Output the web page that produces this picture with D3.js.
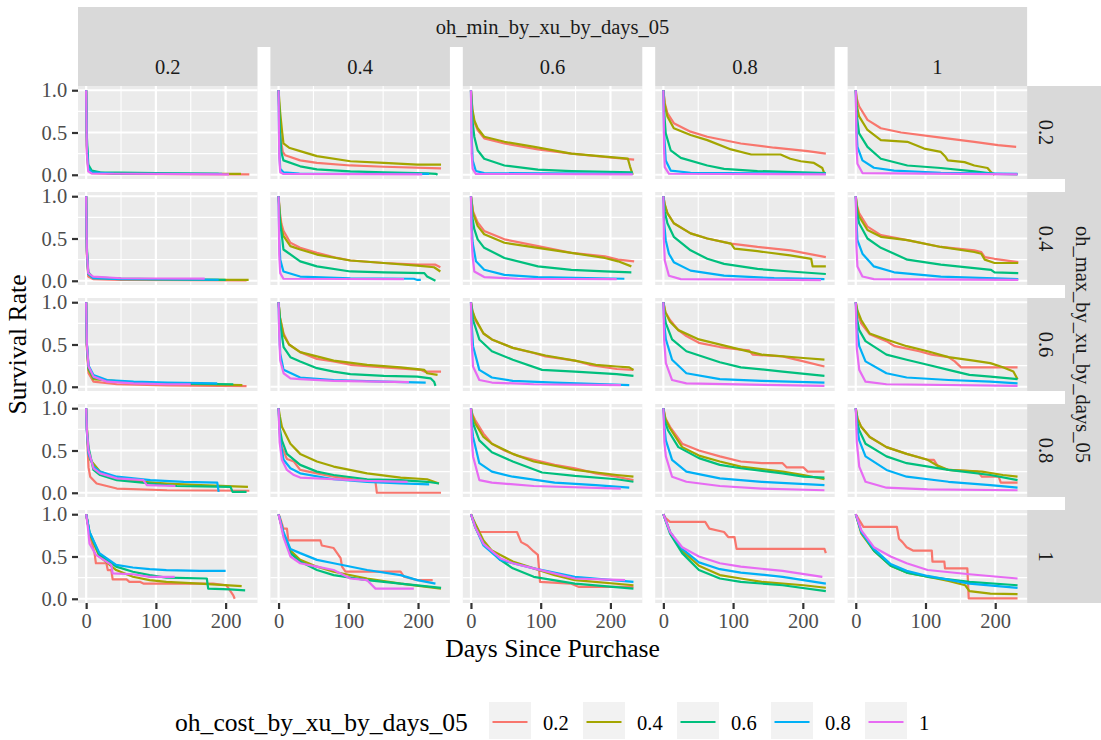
<!DOCTYPE html>
<html>
<head>
<meta charset="utf-8">
<title>Survival by facet</title>
<script src="https://cdn.jsdelivr.net/npm/d3@7"></script>
<style>
  body { margin: 0; background: #fff; }
  text { font-family: "Liberation Serif", "Times New Roman", serif; }
</style>
</head>
<body>
<script>
// facet levels
var minLevels = ["0.2", "0.4", "0.6", "0.8", "1"];   // columns
var maxLevels = ["0.2", "0.4", "0.6", "0.8", "1"];   // rows
var costLevels = ["0.2", "0.4", "0.6", "0.8", "1"];  // colour
var costColors = ["#F8766D", "#A3A500", "#00BF7D", "#00B0F6", "#E76BF3"];
var xTicks = [0, 100, 200];
var xMinor = [50, 150];
var yTicks = [0, 0.5, 1];
var yMinor = [0.25, 0.75];

// one panel = one [day, survival] list per cost level (0.2 .. 1)
// row oh_max = 0.2
var max02_min02 = [
  [[0,1],[1,0.3],[3,0.06],[8,0.02],[40,0.01],[234,0.005]],
  [[0,1],[1,0.35],[3,0.08],[8,0.03],[40,0.015],[222,0.01]],
  [[0,1],[1,0.45],[3,0.12],[8,0.05],[20,0.03],[100,0.02],[190,0.01]],
  [[0,1],[1,0.35],[3,0.08],[8,0.03],[40,0.015],[195,0.01]],
  [[0,1],[1,0.25],[3,0.04],[8,0.015],[205,0.005]]
];
var max02_min04 = [
  [[0,1],[1.5,0.6],[3.4,0.41],[6,0.27],[9.6,0.23],[31,0.17],[55,0.14],[103,0.11],[151,0.095],[233,0.075]],
  [[0,1],[2.4,0.73],[4.8,0.53],[7,0.37],[15,0.32],[31,0.28],[55,0.22],[103,0.16],[151,0.14],[199,0.12],[233,0.12]],
  [[0,1],[2,0.5],[4,0.27],[7,0.17],[31,0.1],[55,0.063],[103,0.04],[151,0.028],[213,0.016],[226,0.01],[228,0]],
  [[0,1],[1,0.3],[2.4,0.07],[7,0.03],[30,0.015],[216,0.01]],
  [[0,1],[1,0.2],[2.4,0.03],[7,0.01],[206,0.005]]
];
var max02_min06 = [
  [[0,1],[2,0.75],[5,0.62],[9.6,0.53],[19,0.43],[48,0.37],[96,0.3],[144,0.25],[192,0.21],[234,0.18]],
  [[0,1],[2,0.78],[5,0.64],[9.6,0.55],[19,0.45],[48,0.39],[91,0.33],[144,0.25],[225,0.19],[228,0.1],[232,0]],
  [[0,1],[2,0.65],[4.8,0.45],[9.6,0.29],[19,0.19],[48,0.11],[96,0.06],[144,0.044],[232,0.03]],
  [[0,1],[1,0.45],[2.4,0.17],[7,0.044],[19,0.02],[232,0.01]],
  [[0,1],[1,0.25],[2.4,0.07],[7,0.01],[232,0.005]]
];
var max02_min08 = [
  [[0,1],[2,0.85],[5.8,0.73],[15,0.61],[39,0.51],[63,0.45],[111,0.37],[159,0.32],[207,0.28],[233,0.25]],
  [[0,1],[2,0.83],[5.8,0.69],[15,0.55],[39,0.47],[63,0.41],[97,0.3],[126,0.24],[168,0.24],[182,0.19],[197,0.16],[216,0.14],[228,0.08],[231,0.01]],
  [[0,1],[1.5,0.7],[3.4,0.49],[10.5,0.29],[25,0.2],[63,0.11],[87,0.07],[135,0.044],[233,0.02]],
  [[0,1],[1,0.5],[3.4,0.17],[10.5,0.05],[39,0.024],[233,0.01]],
  [[0,1],[1,0.3],[2,0.09],[8,0.012],[233,0.005]]
];
var max02_min1 = [
  [[0,1],[1.5,0.9],[4.8,0.81],[16.8,0.65],[36,0.55],[65,0.5],[122,0.44],[170,0.39],[204,0.35],[230,0.33]],
  [[0,1],[1.5,0.82],[4.8,0.69],[16.8,0.53],[36,0.41],[74,0.39],[98,0.31],[122,0.27],[128,0.22],[132,0.17],[156,0.15],[170,0.11],[189,0.08],[194,0.03],[199,0]],
  [[0,1],[1.5,0.7],[4.8,0.49],[16.8,0.33],[36,0.19],[74,0.11],[122,0.08],[170,0.04],[199,0.01],[232,0.005]],
  [[0,1],[1,0.55],[2.4,0.33],[9.6,0.17],[26,0.083],[55,0.05],[122,0.024],[232,0.01]],
  [[0,1],[1,0.35],[2.4,0.13],[9.6,0.02],[232,0.005]]
];
// row oh_max = 0.4
var max04_min02 = [
  [[0,1],[1,0.3],[3,0.05],[10,0.02],[50,0.01],[230,0.005]],
  [[0,1],[1,0.35],[3,0.08],[10,0.035],[50,0.02],[150,0.012],[233,0.01]],
  [[0,1],[1,0.4],[3,0.1],[10,0.04],[50,0.025],[150,0.015],[200,0.01]],
  [[0,1],[1,0.35],[3,0.08],[10,0.03],[50,0.02],[190,0.012]],
  [[0,1],[1,0.35],[3,0.09],[10,0.05],[50,0.03],[170,0.025]]
];
var max04_min04 = [
  [[0,1],[2,0.8],[4,0.68],[7,0.59],[17,0.45],[31,0.39],[55,0.33],[84,0.27],[103,0.24],[151,0.21],[199,0.19],[225,0.19],[232,0.16]],
  [[0,1],[2,0.75],[4,0.62],[7,0.53],[17,0.41],[31,0.37],[55,0.31],[103,0.24],[151,0.21],[199,0.18],[223,0.16],[232,0.11]],
  [[0,1],[2,0.7],[4.8,0.53],[7,0.37],[31,0.23],[55,0.17],[103,0.11],[151,0.1],[209,0.09],[213,0.05],[225,0]],
  [[0,1],[1,0.5],[2.4,0.25],[7,0.11],[31,0.05],[103,0.03],[194,0.024],[199,0.01],[204,0.01]],
  [[0,1],[1,0.3],[2.4,0.09],[7,0.024],[180,0.02]]
];
var max04_min06 = [
  [[0,1],[3,0.82],[9.6,0.69],[19,0.59],[48,0.49],[96,0.41],[144,0.33],[192,0.29],[211,0.25],[234,0.23]],
  [[0,1],[3,0.8],[9.6,0.65],[19,0.55],[48,0.45],[96,0.39],[144,0.33],[192,0.27],[211,0.23],[230,0.17]],
  [[0,1],[2,0.75],[4.8,0.61],[9.6,0.49],[19,0.39],[48,0.27],[96,0.17],[144,0.13],[192,0.11],[230,0.1]],
  [[0,1],[1,0.65],[2.4,0.45],[7.2,0.23],[19,0.13],[48,0.07],[96,0.044],[220,0.024]],
  [[0,1],[1,0.5],[2.4,0.29],[4.8,0.11],[19,0.044],[67,0.024],[209,0.02]]
];
var max04_min08 = [
  [[0,1],[2,0.9],[5.8,0.8],[15,0.68],[39,0.56],[63,0.5],[97,0.44],[135,0.4],[182,0.36],[233,0.28]],
  [[0,1],[2,0.9],[5.8,0.8],[15,0.68],[39,0.56],[63,0.5],[97,0.44],[102,0.38],[135,0.35],[182,0.3],[212,0.26],[214,0.17],[233,0.17]],
  [[0,1],[2,0.82],[5.8,0.68],[15,0.52],[39,0.36],[63,0.26],[87,0.2],[135,0.14],[182,0.11],[233,0.08]],
  [[0,1],[1,0.7],[3.4,0.48],[8,0.32],[15,0.22],[39,0.12],[87,0.06],[159,0.032],[231,0.02]],
  [[0,1],[0.7,0.5],[2,0.24],[8,0.06],[25,0.02],[226,0.008]]
];
var max04_min1 = [
  [[0,1],[1.5,0.9],[4.8,0.8],[16.8,0.64],[36,0.54],[74,0.48],[122,0.4],[170,0.36],[180,0.34],[185,0.28],[199,0.26],[233,0.22]],
  [[0,1],[1.5,0.88],[4.8,0.76],[16.8,0.6],[36,0.52],[74,0.48],[122,0.4],[170,0.34],[180,0.32],[185,0.25],[199,0.21],[233,0.21]],
  [[0,1],[1.5,0.82],[4.8,0.68],[16.8,0.5],[36,0.39],[74,0.25],[122,0.19],[170,0.15],[194,0.13],[199,0.1],[233,0.09]],
  [[0,1],[1,0.7],[2.4,0.48],[9.6,0.32],[26,0.17],[55,0.1],[122,0.05],[233,0.02]],
  [[0,1],[1,0.4],[2.4,0.17],[9.6,0.05],[26,0.02],[233,0.01]]
];
// row oh_max = 0.6
var max06_min02 = [
  [[0,1],[1,0.45],[3.4,0.16],[10.5,0.06],[44,0.03],[116,0.016],[230,0.008]],
  [[0,1],[1,0.5],[3.4,0.2],[10.5,0.09],[68,0.05],[164,0.03],[224,0.02]],
  [[0,1],[1,0.5],[3.4,0.22],[10.5,0.11],[30,0.07],[68,0.05],[116,0.04],[211,0.03]],
  [[0,1],[1,0.52],[3.4,0.25],[10.5,0.14],[30,0.08],[68,0.06],[116,0.05],[188,0.04]],
  [[0,1],[1,0.5],[3.4,0.24],[10.5,0.12],[30,0.06],[68,0.04],[116,0.03],[150,0.03]]
];
var max06_min04 = [
  [[0,1],[2,0.82],[7.2,0.63],[15,0.5],[31,0.41],[55,0.33],[79,0.3],[103,0.26],[151,0.23],[204,0.2],[209,0.18],[233,0.18]],
  [[0,1],[2,0.82],[7.2,0.61],[15,0.5],[31,0.41],[79,0.31],[127,0.26],[175,0.23],[209,0.2],[213,0.16],[228,0.14]],
  [[0,1],[2.4,0.75],[7.2,0.47],[17,0.35],[31,0.3],[55,0.22],[79,0.18],[103,0.15],[151,0.13],[199,0.12],[218,0.1],[223,0.06],[225,0.01]],
  [[0,1],[1,0.65],[2.4,0.39],[7.2,0.2],[31,0.11],[79,0.08],[151,0.06],[211,0.05]],
  [[0,1],[1,0.6],[2.4,0.31],[7.2,0.16],[17,0.1],[31,0.09],[79,0.07],[187,0.055]]
];
var max06_min06 = [
  [[0,1],[2,0.9],[6,0.79],[18,0.63],[30,0.56],[60,0.46],[90,0.4],[107,0.36],[149,0.31],[170,0.26],[209,0.21],[233,0.2]],
  [[0,1],[2,0.9],[6,0.81],[18,0.63],[30,0.56],[60,0.46],[107,0.37],[149,0.31],[179,0.26],[209,0.24],[227,0.23],[233,0.2]],
  [[0,1],[1.5,0.88],[3,0.79],[12,0.56],[30,0.42],[60,0.32],[102,0.2],[149,0.18],[209,0.15],[233,0.13]],
  [[0,1],[1,0.75],[3,0.48],[12,0.2],[30,0.11],[60,0.07],[120,0.05],[227,0.02]],
  [[0,1],[1,0.55],[3,0.24],[12,0.08],[30,0.05],[90,0.03],[215,0.02]]
];
var max06_min08 = [
  [[0,1],[3,0.88],[9.6,0.79],[21.5,0.67],[33,0.6],[51,0.52],[81,0.47],[111,0.44],[123,0.43],[128,0.38],[171,0.36],[201,0.3],[231,0.24]],
  [[0,1],[3,0.88],[9.6,0.77],[21.5,0.67],[51,0.56],[111,0.44],[141,0.38],[201,0.34],[231,0.32]],
  [[0,1],[1.5,0.85],[3.6,0.75],[12.5,0.56],[33,0.42],[81,0.29],[111,0.23],[171,0.18],[231,0.13]],
  [[0,1],[1.2,0.75],[3.6,0.56],[12.5,0.32],[33,0.16],[81,0.09],[141,0.07],[231,0.05]],
  [[0,1],[1.2,0.55],[3.6,0.28],[12.5,0.08],[33,0.04],[231,0.01]]
];
var max06_min1 = [
  [[0,1],[2.5,0.87],[7.8,0.75],[20,0.62],[44,0.54],[56,0.48],[91,0.42],[109,0.38],[133,0.35],[142,0.3],[151,0.23],[193,0.23],[232,0.23]],
  [[0,1],[2.5,0.9],[7.8,0.79],[20,0.63],[44,0.56],[73,0.48],[103,0.42],[133,0.35],[169,0.31],[193,0.28],[211,0.23],[226,0.18],[232,0.09]],
  [[0,1],[2,0.8],[5,0.67],[14,0.54],[44,0.38],[73,0.32],[103,0.26],[133,0.2],[163,0.14],[193,0.12],[232,0.09]],
  [[0,1],[1.5,0.7],[5,0.48],[14,0.3],[44,0.16],[73,0.11],[133,0.08],[193,0.06],[232,0.04]],
  [[0,1],[1.5,0.45],[5,0.2],[14,0.06],[44,0.03],[232,0.01]]
];
// row oh_max = 0.8
var max08_min02 = [
  [[0,1],[2,0.54],[3.4,0.3],[5.8,0.19],[15,0.11],[44,0.05],[116,0.03],[234,0.024]],
  [[0,1],[2,0.6],[5.8,0.39],[20,0.25],[44,0.17],[82,0.13],[116,0.11],[164,0.09],[232,0.07]],
  [[0,1],[1,0.75],[3.4,0.54],[10.5,0.27],[20,0.21],[44,0.15],[92,0.11],[130,0.08],[207,0.07],[210,0.01],[230,0.01]],
  [[0,1],[1,0.72],[3.4,0.46],[10.5,0.31],[20,0.25],[44,0.19],[92,0.15],[140,0.13],[188,0.12],[190,0.01]],
  [[0,1],[1,0.74],[3.4,0.5],[10.5,0.29],[20,0.23],[44,0.17],[82,0.15],[87,0.09],[128,0.08]]
];
var max08_min04 = [
  [[0,1],[2,0.7],[4.8,0.54],[12,0.4],[22,0.37],[31,0.27],[55,0.23],[79,0.19],[115,0.15],[139,0.13],[141,0],[233,0]],
  [[0,1],[2,0.9],[4.8,0.78],[17,0.58],[31,0.46],[55,0.37],[79,0.31],[127,0.23],[175,0.18],[213,0.16],[230,0.11]],
  [[0,1],[2,0.75],[4.8,0.62],[12,0.46],[31,0.33],[55,0.25],[79,0.21],[127,0.16],[175,0.15],[213,0.13],[230,0.11]],
  [[0,1],[1,0.8],[2.4,0.62],[7.2,0.39],[17,0.29],[31,0.23],[79,0.16],[127,0.13],[175,0.11],[216,0.1]],
  [[0,1],[1.5,0.6],[4.8,0.39],[12,0.27],[22,0.21],[31,0.18],[79,0.16],[127,0.14],[185,0.13]]
];
var max08_min06 = [
  [[0,1],[2,0.93],[6,0.86],[18,0.7],[30,0.58],[48,0.5],[66,0.44],[90,0.39],[120,0.33],[149,0.29],[179,0.23],[209,0.19],[233,0.15]],
  [[0,1],[2,0.92],[6,0.82],[18,0.66],[30,0.58],[60,0.46],[90,0.37],[149,0.27],[209,0.21],[233,0.19]],
  [[0,1],[1.2,0.9],[3,0.82],[12,0.62],[30,0.48],[60,0.37],[102,0.24],[149,0.2],[209,0.16],[233,0.13]],
  [[0,1],[1.2,0.8],[3,0.66],[12,0.35],[30,0.25],[60,0.19],[120,0.12],[179,0.09],[227,0.06]],
  [[0,1],[1.2,0.65],[3,0.43],[12,0.15],[30,0.12],[90,0.08],[215,0.05]]
];
var max08_min08 = [
  [[0,1],[3,0.88],[9.6,0.78],[27,0.58],[51,0.5],[81,0.43],[111,0.37],[141,0.35],[171,0.35],[177,0.3],[201,0.3],[207,0.25],[231,0.25]],
  [[0,1],[3,0.87],[9.6,0.76],[27,0.54],[51,0.44],[81,0.37],[111,0.31],[171,0.25],[201,0.21],[231,0.16]],
  [[0,1],[2,0.85],[6.6,0.74],[21.5,0.54],[51,0.41],[81,0.33],[111,0.29],[171,0.23],[201,0.19],[231,0.18]],
  [[0,1],[1.5,0.78],[3.6,0.62],[12.5,0.39],[33,0.25],[81,0.17],[141,0.13],[231,0.09]],
  [[0,1],[1.5,0.6],[3.6,0.43],[12.5,0.19],[33,0.13],[81,0.08],[141,0.05],[231,0.03]]
];
var max08_min1 = [
  [[0,1],[2.5,0.88],[7.8,0.78],[20,0.66],[44,0.54],[73,0.46],[103,0.39],[112,0.39],[118,0.31],[133,0.27],[175,0.25],[181,0.19],[205,0.19],[208,0.12],[232,0.12]],
  [[0,1],[2.5,0.88],[7.8,0.78],[20,0.66],[44,0.54],[73,0.46],[103,0.39],[115,0.33],[133,0.27],[181,0.25],[211,0.21],[232,0.19]],
  [[0,1],[1.5,0.86],[5,0.74],[14,0.58],[44,0.43],[73,0.35],[133,0.27],[193,0.21],[232,0.15]],
  [[0,1],[1.5,0.8],[5,0.62],[14,0.43],[44,0.27],[73,0.19],[133,0.13],[193,0.09],[232,0.06]],
  [[0,1],[1.5,0.6],[5,0.31],[14,0.13],[44,0.06],[103,0.04],[232,0.03]]
];
// row oh_max = 1
var max1_min02 = [
  [[0,1],[4.8,0.77],[12,0.54],[14,0.42],[29,0.42],[31,0.34],[36,0.34],[38,0.23],[58,0.23],[62,0.2],[77,0.2],[82,0.18],[182,0.18],[201,0.16],[211,0.04],[213,0]],
  [[0,1],[4.8,0.77],[19,0.5],[43,0.34],[67,0.26],[91,0.22],[115,0.2],[163,0.18],[223,0.15]],
  [[0,1],[4.8,0.79],[19,0.52],[43,0.38],[67,0.32],[91,0.28],[115,0.25],[173,0.24],[175,0.12],[206,0.11],[228,0.1]],
  [[0,1],[4.8,0.79],[19,0.54],[43,0.4],[67,0.37],[91,0.35],[115,0.34],[163,0.33],[200,0.33]],
  [[0,1],[2.4,0.85],[4.8,0.65],[14,0.52],[29,0.44],[36,0.4],[38,0.3],[67,0.29],[91,0.26],[127,0.26]]
];
var max1_min04 = [
  [[0,1],[2.4,0.95],[7,0.83],[12,0.83],[14,0.69],[60,0.69],[62,0.63],[79,0.6],[89,0.48],[91,0.38],[96,0.32],[175,0.32],[180,0.26],[199,0.22],[221,0.22]],
  [[0,1],[7,0.77],[17,0.57],[31,0.46],[55,0.38],[79,0.32],[127,0.24],[175,0.18],[233,0.12]],
  [[0,1],[7,0.77],[17,0.54],[31,0.44],[55,0.34],[79,0.28],[127,0.22],[175,0.18],[233,0.13]],
  [[0,1],[7,0.79],[17,0.59],[31,0.54],[55,0.46],[79,0.42],[127,0.34],[175,0.28],[199,0.22],[225,0.18]],
  [[0,1],[7,0.73],[17,0.5],[31,0.42],[55,0.38],[79,0.34],[103,0.24],[127,0.22],[139,0.12],[194,0.12]]
];
var max1_min06 = [
  [[0,1],[3,0.93],[12,0.79],[66,0.79],[72,0.67],[81,0.63],[90,0.56],[96,0.52],[99,0.2],[143,0.18],[155,0.14],[233,0.14]],
  [[0,1],[6,0.89],[18,0.69],[30,0.57],[60,0.44],[90,0.36],[120,0.28],[149,0.22],[233,0.16]],
  [[0,1],[6,0.85],[18,0.65],[42,0.46],[60,0.36],[90,0.26],[149,0.18],[233,0.12]],
  [[0,1],[6,0.85],[18,0.63],[42,0.46],[60,0.42],[90,0.36],[149,0.26],[233,0.2]],
  [[0,1],[6,0.85],[18,0.65],[42,0.48],[60,0.42],[90,0.36],[149,0.24],[221,0.22]]
];
var max1_min08 = [
  [[0,1],[3.6,0.95],[9.6,0.91],[60,0.91],[66,0.83],[87,0.79],[93,0.73],[102,0.73],[105,0.59],[231,0.59],[233,0.54]],
  [[0,1],[9.6,0.79],[27,0.57],[51,0.39],[81,0.28],[111,0.24],[141,0.2],[201,0.16],[233,0.13]],
  [[0,1],[9.6,0.77],[27,0.54],[51,0.34],[81,0.24],[111,0.2],[171,0.16],[233,0.09]],
  [[0,1],[9.6,0.79],[27,0.59],[51,0.43],[81,0.35],[111,0.31],[171,0.26],[233,0.18]],
  [[0,1],[9.6,0.79],[27,0.61],[51,0.5],[81,0.42],[111,0.38],[171,0.33],[228,0.26]]
];
var max1_min1 = [
  [[0,1],[5,0.93],[11,0.85],[59,0.85],[62,0.71],[67,0.67],[73,0.61],[82,0.57],[109,0.57],[110,0.44],[127,0.44],[128,0.36],[160,0.36],[162,0.005],[232,0.005]],
  [[0,1],[8,0.77],[26,0.57],[50,0.39],[73,0.31],[103,0.26],[133,0.21],[157,0.16],[163,0.09],[193,0.06],[232,0.055]],
  [[0,1],[8,0.79],[26,0.57],[50,0.39],[73,0.31],[103,0.26],[163,0.2],[232,0.16]],
  [[0,1],[8,0.79],[26,0.59],[50,0.41],[73,0.33],[103,0.27],[163,0.18],[232,0.13]],
  [[0,1],[8,0.81],[26,0.61],[50,0.5],[73,0.42],[103,0.34],[163,0.29],[232,0.24]]
];

// grid of panels: rows = oh_max, columns = oh_min
var panels = [
  [max02_min02, max02_min04, max02_min06, max02_min08, max02_min1],
  [max04_min02, max04_min04, max04_min06, max04_min08, max04_min1],
  [max06_min02, max06_min04, max06_min06, max06_min08, max06_min1],
  [max08_min02, max08_min04, max08_min06, max08_min08, max08_min1],
  [max1_min02,  max1_min04,  max1_min06,  max1_min08,  max1_min1]
];

var svg = d3.select("body").append("svg")
    .attr("width", 1101)
    .attr("height", 740);

// layout
var left0 = 78, top0 = 86;
var panelW = 179.5, panelH = 93;
var colStep = 192.4, rowStep = 106;
var stripFont = 20.5, titleFont = 25.6;

var x = d3.scaleLinear().domain([-11.7, 245.7]).range([0, panelW]);
var y = d3.scaleLinear().domain([-0.05, 1.05]).range([panelH, 0]);
var colour = d3.scaleOrdinal().domain(costLevels).range(costColors);

var line = d3.line()
    .x(function(d) { return x(d[0]); })
    .y(function(d) { return y(d[1]); });

// strips on top
svg.append("rect")
    .attr("x", left0).attr("y", 7)
    .attr("width", colStep * 4 + panelW).attr("height", 40)
    .attr("fill", "#D9D9D9");
svg.append("text")
    .attr("x", left0 + (colStep * 4 + panelW) / 2).attr("y", 27)
    .attr("text-anchor", "middle").attr("dominant-baseline", "central")
    .attr("font-size", stripFont).attr("fill", "#1A1A1A")
    .text("oh_min_by_xu_by_days_05");

minLevels.forEach(function(lab, c) {
    var px = left0 + c * colStep;
    svg.append("rect")
        .attr("x", px).attr("y", 47)
        .attr("width", panelW).attr("height", top0 - 47)
        .attr("fill", "#D9D9D9");
    svg.append("text")
        .attr("x", px + panelW / 2).attr("y", 66.5)
        .attr("text-anchor", "middle").attr("dominant-baseline", "central")
        .attr("font-size", stripFont).attr("fill", "#1A1A1A")
        .text(lab);
});

// strips on the right
var rightX = left0 + colStep * 4 + panelW;
svg.append("rect")
    .attr("x", 1065).attr("y", top0)
    .attr("width", 36).attr("height", rowStep * 4 + panelH)
    .attr("fill", "#D9D9D9");
svg.append("text")
    .attr("transform", "translate(1083," + (top0 + (rowStep * 4 + panelH) / 2) + ") rotate(90)")
    .attr("text-anchor", "middle").attr("dominant-baseline", "central")
    .attr("font-size", stripFont).attr("fill", "#1A1A1A")
    .text("oh_max_by_xu_by_days_05");

maxLevels.forEach(function(lab, r) {
    var py = top0 + r * rowStep;
    svg.append("rect")
        .attr("x", rightX).attr("y", py)
        .attr("width", 1065 - rightX).attr("height", panelH)
        .attr("fill", "#D9D9D9");
    svg.append("text")
        .attr("transform", "translate(" + (rightX + (1065 - rightX) / 2) + "," + (py + panelH / 2) + ") rotate(90)")
        .attr("text-anchor", "middle").attr("dominant-baseline", "central")
        .attr("font-size", stripFont).attr("fill", "#1A1A1A")
        .text(lab);
});

// panels
panels.forEach(function(row, r) {
    row.forEach(function(series, c) {
        var g = svg.append("g")
            .attr("transform", "translate(" + (left0 + c * colStep) + "," + (top0 + r * rowStep) + ")");

        g.append("rect")
            .attr("width", panelW).attr("height", panelH)
            .attr("fill", "#EBEBEB");

        g.selectAll(".xminor").data(xMinor).enter().append("line")
            .attr("x1", function(d) { return x(d); }).attr("x2", function(d) { return x(d); })
            .attr("y1", 0).attr("y2", panelH)
            .attr("stroke", "#fff").attr("stroke-width", 1.1);
        g.selectAll(".yminor").data(yMinor).enter().append("line")
            .attr("x1", 0).attr("x2", panelW)
            .attr("y1", function(d) { return y(d); }).attr("y2", function(d) { return y(d); })
            .attr("stroke", "#fff").attr("stroke-width", 1.1);
        g.selectAll(".xmajor").data(xTicks).enter().append("line")
            .attr("x1", function(d) { return x(d); }).attr("x2", function(d) { return x(d); })
            .attr("y1", 0).attr("y2", panelH)
            .attr("stroke", "#fff").attr("stroke-width", 2.2);
        g.selectAll(".ymajor").data(yTicks).enter().append("line")
            .attr("x1", 0).attr("x2", panelW)
            .attr("y1", function(d) { return y(d); }).attr("y2", function(d) { return y(d); })
            .attr("stroke", "#fff").attr("stroke-width", 2.2);

        g.selectAll("path.curve").data(series).enter().append("path")
            .attr("class", "curve")
            .attr("d", line)
            .attr("fill", "none")
            .attr("stroke", function(d, i) { return colour(costLevels[i]); })
            .attr("stroke-width", 2.2)
            .attr("stroke-linejoin", "round");

        // y axis on first column
        if (c === 0) {
            var ya = d3.axisLeft(y).tickValues(yTicks).tickSize(6).tickPadding(4.8)
                .tickFormat(d3.format(".1f"));
            var ag = g.append("g").call(ya);
            ag.select(".domain").remove();
            ag.selectAll("line").attr("stroke", "#333").attr("stroke-width", 2.2);
            ag.selectAll("text").attr("font-size", stripFont).attr("fill", "#4D4D4D")
                .style("font-family", "'Liberation Serif', serif");
        }
        // x axis on bottom row
        if (r === panels.length - 1) {
            var xa = d3.axisBottom(x).tickValues(xTicks).tickSize(6).tickPadding(4.8)
                .tickFormat(d3.format("d"));
            var bg = g.append("g").attr("transform", "translate(0," + panelH + ")").call(xa);
            bg.select(".domain").remove();
            bg.selectAll("line").attr("stroke", "#333").attr("stroke-width", 2.2);
            bg.selectAll("text").attr("font-size", stripFont).attr("fill", "#4D4D4D")
                .style("font-family", "'Liberation Serif', serif");
        }
    });
});

// axis titles
svg.append("text")
    .attr("x", left0 + (colStep * 4 + panelW) / 2).attr("y", 657)
    .attr("text-anchor", "middle")
    .attr("font-size", titleFont).attr("fill", "#000")
    .text("Days Since Purchase");
svg.append("text")
    .attr("transform", "translate(26," + (top0 + (rowStep * 4 + panelH) / 2) + ") rotate(-90)")
    .attr("text-anchor", "middle")
    .attr("font-size", titleFont).attr("fill", "#000")
    .text("Survival Rate");

// legend
var legend = svg.append("g");
legend.append("text")
    .attr("x", 175).attr("y", 731)
    .attr("font-size", titleFont).attr("fill", "#000")
    .text("oh_cost_by_xu_by_days_05");
var keys = legend.selectAll(".key").data(costLevels).enter().append("g")
    .attr("transform", function(d, i) { return "translate(" + (489 + i * 94) + ",702)"; });
keys.append("rect")
    .attr("width", 42).attr("height", 37)
    .attr("fill", "#F2F2F2");
keys.append("line")
    .attr("x1", 3.5).attr("x2", 38.5)
    .attr("y1", 20).attr("y2", 20)
    .attr("stroke", function(d) { return colour(d); })
    .attr("stroke-width", 2.2);
keys.append("text")
    .attr("x", 54).attr("y", 28)
    .attr("font-size", stripFont).attr("fill", "#000")
    .text(function(d) { return d; });
</script>
</body>
</html>
